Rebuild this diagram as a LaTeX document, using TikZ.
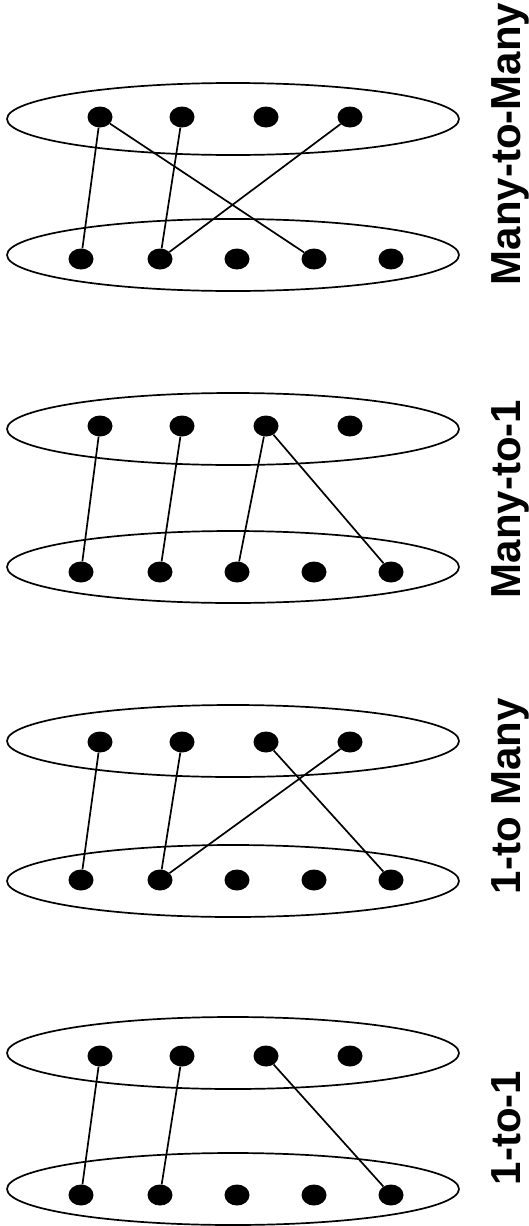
\documentclass[tikz,border=0pt]{standalone}
\usepackage{fontspec}
\setmainfont{Liberation Sans}
\usetikzlibrary{shapes.geometric}
\tikzset{
  set/.style={draw, ellipse, line width=1.7pt, minimum width=452pt, minimum height=72pt, inner sep=0pt},
  dot/.style={fill, ellipse, minimum width=25pt, minimum height=21pt, inner sep=0pt},
  link/.style={line width=1.7pt},
  kind/.style={rotate=90, anchor=base, font=\fontsize{42}{50}\selectfont\bfseries}
}
\begin{document}
\begin{tikzpicture}[x=1pt, y=-1pt]
   \useasboundingbox (0,0) rectangle (529,1226);
   % two sets per panel, four dots above, five below
   \foreach \p/\yt/\dt/\yb/\db in {a/119/117/255/259, b/429/426/567/572,
                                   c/741/742/881/880, d/1053/1056/1189/1195} {
     \node[set] (\p top) at (233,\yt) {};
     \node[set] (\p bot) at (233,\yb) {};
     \foreach \i/\x in {1/100,2/182,3/266,4/350}
       \node[dot] (\p t\i) at (\x,\dt) {};
     \foreach \i/\x in {1/81,2/160,3/237,4/314,5/391}
       \node[dot] (\p b\i) at (\x,\db) {};
   }
   % Many-to-Many
   \draw[link] (at1) -- (ab1);
   \draw[link] (at2) -- (ab2);
   \draw[link] (at1) -- (ab4);
   \draw[link] (at4) -- (ab2);
   \node[kind] (alab) at (520,144) {Many-to-Many};
   % Many-to-1
   \draw[link] (bt1) -- (bb1);
   \draw[link] (bt2) -- (bb2);
   \draw[link] (bt3) -- (bb3);
   \draw[link] (bt3) -- (bb5);
   \node[kind] (blab) at (520,499) {Many-to-1};
   % 1-to Many
   \draw[link] (ct1) -- (cb1);
   \draw[link] (ct2) -- (cb2);
   \draw[link] (ct4) -- (cb2);
   \draw[link] (ct3) -- (cb5);
   \node[kind] (clab) at (520,796) {1-to Many};
   % 1-to-1
   \draw[link] (dt1) -- (db1);
   \draw[link] (dt2) -- (db2);
   \draw[link] (dt3) -- (db5);
   \node[kind] (dlab) at (520,1128) {1-to-1};
\end{tikzpicture}
\end{document}
